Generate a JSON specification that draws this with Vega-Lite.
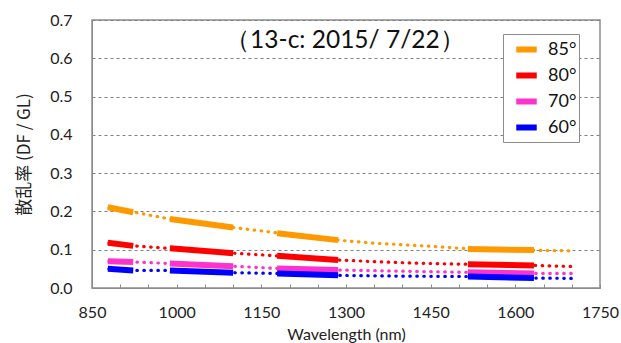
{
  "$schema": "https://vega.github.io/schema/vega-lite/v6.json",
  "width": 508,
  "height": 268,
  "autosize": {"type": "none"},
  "padding": {"left": 92, "top": 20, "right": 21, "bottom": 55},
  "config": {"view": {"stroke": "#8c8c8c", "strokeWidth": 1.5}, "font": "Lato"},
  "datasets": {
    "fit": [
      {"series": "85°", "wl": 880, "v": 0.210}, {"series": "85°", "wl": 925, "v": 0.198}, {"series": "85°", "wl": 960, "v": 0.188}, {"series": "85°", "wl": 1000, "v": 0.177}, {"series": "85°", "wl": 1050, "v": 0.167}, {"series": "85°", "wl": 1100, "v": 0.158}, {"series": "85°", "wl": 1150, "v": 0.149}, {"series": "85°", "wl": 1200, "v": 0.140}, {"series": "85°", "wl": 1250, "v": 0.131}, {"series": "85°", "wl": 1300, "v": 0.123}, {"series": "85°", "wl": 1350, "v": 0.117}, {"series": "85°", "wl": 1400, "v": 0.113}, {"series": "85°", "wl": 1450, "v": 0.109}, {"series": "85°", "wl": 1500, "v": 0.104}, {"series": "85°", "wl": 1550, "v": 0.101}, {"series": "85°", "wl": 1600, "v": 0.100}, {"series": "85°", "wl": 1650, "v": 0.098}, {"series": "85°", "wl": 1706, "v": 0.097},
      {"series": "80°", "wl": 880, "v": 0.118}, {"series": "80°", "wl": 925, "v": 0.110}, {"series": "80°", "wl": 960, "v": 0.106}, {"series": "80°", "wl": 1000, "v": 0.102}, {"series": "80°", "wl": 1050, "v": 0.097}, {"series": "80°", "wl": 1100, "v": 0.091}, {"series": "80°", "wl": 1178, "v": 0.084}, {"series": "80°", "wl": 1286, "v": 0.073}, {"series": "80°", "wl": 1350, "v": 0.069}, {"series": "80°", "wl": 1400, "v": 0.066}, {"series": "80°", "wl": 1450, "v": 0.064}, {"series": "80°", "wl": 1516, "v": 0.062}, {"series": "80°", "wl": 1633, "v": 0.059}, {"series": "80°", "wl": 1706, "v": 0.056},
      {"series": "70°", "wl": 880, "v": 0.070}, {"series": "70°", "wl": 925, "v": 0.068}, {"series": "70°", "wl": 988, "v": 0.064}, {"series": "70°", "wl": 1100, "v": 0.057}, {"series": "70°", "wl": 1178, "v": 0.051}, {"series": "70°", "wl": 1286, "v": 0.047}, {"series": "70°", "wl": 1400, "v": 0.044}, {"series": "70°", "wl": 1516, "v": 0.041}, {"series": "70°", "wl": 1633, "v": 0.038}, {"series": "70°", "wl": 1706, "v": 0.038},
      {"series": "60°", "wl": 880, "v": 0.050}, {"series": "60°", "wl": 925, "v": 0.046}, {"series": "60°", "wl": 988, "v": 0.046}, {"series": "60°", "wl": 1100, "v": 0.040}, {"series": "60°", "wl": 1178, "v": 0.038}, {"series": "60°", "wl": 1286, "v": 0.033}, {"series": "60°", "wl": 1400, "v": 0.031}, {"series": "60°", "wl": 1516, "v": 0.030}, {"series": "60°", "wl": 1633, "v": 0.026}, {"series": "60°", "wl": 1706, "v": 0.025}
    ],
    "meas": [
      {"series": "85°", "seg": 1, "wl": 878, "v": 0.211}, {"series": "85°", "seg": 1, "wl": 923, "v": 0.198},
      {"series": "85°", "seg": 2, "wl": 988, "v": 0.180}, {"series": "85°", "seg": 2, "wl": 1100, "v": 0.158},
      {"series": "85°", "seg": 3, "wl": 1178, "v": 0.143}, {"series": "85°", "seg": 3, "wl": 1286, "v": 0.125},
      {"series": "85°", "seg": 4, "wl": 1516, "v": 0.102}, {"series": "85°", "seg": 4, "wl": 1633, "v": 0.099},
      {"series": "80°", "seg": 1, "wl": 878, "v": 0.118}, {"series": "80°", "seg": 1, "wl": 923, "v": 0.110},
      {"series": "80°", "seg": 2, "wl": 988, "v": 0.104}, {"series": "80°", "seg": 2, "wl": 1100, "v": 0.091},
      {"series": "80°", "seg": 3, "wl": 1178, "v": 0.084}, {"series": "80°", "seg": 3, "wl": 1286, "v": 0.073},
      {"series": "80°", "seg": 4, "wl": 1516, "v": 0.062}, {"series": "80°", "seg": 4, "wl": 1633, "v": 0.059},
      {"series": "70°", "seg": 1, "wl": 878, "v": 0.070}, {"series": "70°", "seg": 1, "wl": 923, "v": 0.068},
      {"series": "70°", "seg": 2, "wl": 988, "v": 0.064}, {"series": "70°", "seg": 2, "wl": 1100, "v": 0.057},
      {"series": "70°", "seg": 3, "wl": 1178, "v": 0.051}, {"series": "70°", "seg": 3, "wl": 1286, "v": 0.047},
      {"series": "70°", "seg": 4, "wl": 1516, "v": 0.041}, {"series": "70°", "seg": 4, "wl": 1633, "v": 0.038},
      {"series": "60°", "seg": 1, "wl": 878, "v": 0.050}, {"series": "60°", "seg": 1, "wl": 923, "v": 0.046},
      {"series": "60°", "seg": 2, "wl": 988, "v": 0.046}, {"series": "60°", "seg": 2, "wl": 1100, "v": 0.040},
      {"series": "60°", "seg": 3, "wl": 1178, "v": 0.038}, {"series": "60°", "seg": 3, "wl": 1286, "v": 0.033},
      {"series": "60°", "seg": 4, "wl": 1516, "v": 0.030}, {"series": "60°", "seg": 4, "wl": 1633, "v": 0.026}
    ],
    "label": [{"wl": 1298, "v": 0.646, "t": "（13-c: 2015/ 7/22）"}]
  },
  "encoding": {
    "x": {
      "field": "wl", "type": "quantitative",
      "scale": {"domain": [850, 1750], "nice": false, "zero": false},
      "axis": {
        "title": "Wavelength (nm)",
        "values": [850, 900, 950, 1000, 1050, 1100, 1150, 1200, 1250, 1300, 1350, 1400, 1450, 1500, 1550, 1600, 1650, 1700, 1750],
        "labelExpr": "(datum.value - 850) % 150 === 0 ? datum.label : ''",
        "format": "d",
        "tickSize": -4,
        "tickColor": "#8c8c8c",
        "tickWidth": 1,
        "domainColor": "#8c8c8c",
        "labelPadding": 20,
        "labelFontSize": 16,
        "labelColor": "#222",
        "labelFlush": false,
        "labelOverlap": false,
        "titleFontSize": 16,
        "titleFontWeight": "normal",
        "titleColor": "#222",
        "titlePadding": 6,
        "grid": false
      }
    },
    "y": {
      "field": "v", "type": "quantitative",
      "scale": {"domain": [0, 0.7], "nice": false},
      "axis": {
        "title": "散乱率 (DF / GL)",
        "values": [0, 0.1, 0.2, 0.3, 0.4, 0.5, 0.6, 0.7],
        "format": ".1f",
        "ticks": false,
        "labelPadding": 20,
        "labelFontSize": 16,
        "labelColor": "#222",
        "labelOverlap": false,
        "labelFlush": false,
        "titleFont": "Noto Sans CJK JP",
        "titleFontSize": 17,
        "titleFontWeight": "normal",
        "titleColor": "#222",
        "titlePadding": 16,
        "domainColor": "#8c8c8c",
        "grid": true,
        "gridDash": [3, 3],
        "gridColor": "#808080",
        "gridWidth": 1
      }
    },
    "color": {
      "field": "series", "type": "nominal",
      "scale": {"domain": ["85°", "80°", "70°", "60°"], "range": ["#FF9900", "#FF0000", "#FF33CC", "#0000FF"]},
      "legend": {
        "title": null,
        "orient": "none",
        "legendX": 411,
        "legendY": 14,
        "symbolType": "stroke",
        "symbolStrokeWidth": 6,
        "symbolSize": 420,
        "symbolDash": [100, 0],
        "symbolOffset": 8,
        "labelOffset": 8,
        "labelFontSize": 18,
        "labelColor": "#111",
        "labelExpr": "datum.label + '\u00a0\u00a0'",
        "strokeColor": "#8c8c8c",
        "fillColor": "white",
        "padding": 2,
        "rowPadding": -0.5
      }
    }
  },
  "layer": [
    {
      "data": {"name": "fit"},
      "mark": {"type": "line", "strokeDash": [0.5, 6.5], "strokeWidth": 3.2, "strokeCap": "round"}
    },
    {
      "data": {"name": "meas"},
      "mark": {"type": "line", "strokeWidth": 6},
      "encoding": {
        "detail": {"field": "seg", "type": "nominal"}
      }
    },
    {
      "data": {"name": "label"},
      "mark": {"type": "text", "fontSize": 24.5, "font": "Lato", "color": "#111"},
      "encoding": {
        "color": {"value": "#111"},
        "text": {"field": "t"}
      }
    }
  ]
}
